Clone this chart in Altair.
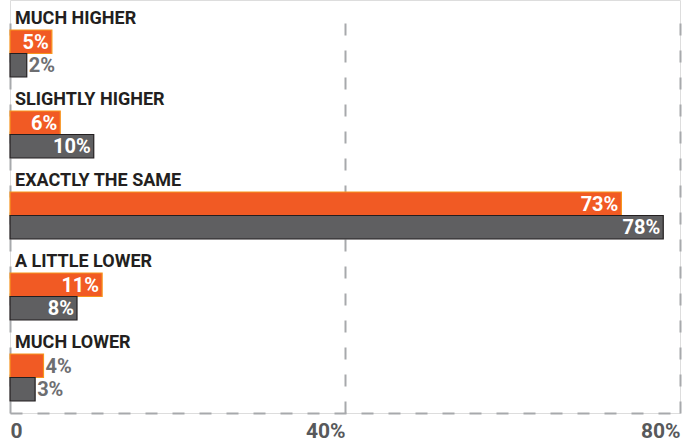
import altair as alt
import pandas as pd

categories = ["MUCH HIGHER", "SLIGHTLY HIGHER", "EXACTLY THE SAME", "A LITTLE LOWER", "MUCH LOWER"]
series_names = ["A", "B"]
series_a = [5, 6, 73, 11, 4]
series_b = [2, 10, 78, 8, 3]
tick_values = [0, 40, 80]

FONT = "Roboto, Liberation Sans, sans-serif"

rows = []
for cat, a, b in zip(categories, series_a, series_b):
    for s, v in ((series_names[0], a), (series_names[1], b)):
        rows.append({"category": cat, "slot": s, "value": v,
                     "label": f"{v}%", "inside": v >= 5})
bars_df = pd.DataFrame(rows)
labels_df = pd.DataFrame({"category": categories, "slot": ["label"] * len(categories)})

slot_domain = ["label"] + series_names
y_enc = alt.Y("category:N", sort=categories, axis=None,
              scale=alt.Scale(domain=categories, range=[0, 405], paddingInner=0, paddingOuter=0))
yoff_enc = alt.YOffset("slot:N", sort=slot_domain,
                       scale=alt.Scale(domain=slot_domain, paddingInner=0, paddingOuter=0.223, align=0.62))

x_enc = alt.X("value:Q",
              scale=alt.Scale(domain=[0, 80], nice=False, zero=True),
              axis=alt.Axis(values=tick_values, title=None, grid=True,
                            gridDash=[12, 15], gridColor="#a7a9ac", gridWidth=2,
                            domain=True, domainDash=[12, 15], domainColor="#a7a9ac", domainWidth=2,
                            ticks=False,
                            labelExpr="datum.value == 0 ? '0' : datum.value + '%'",
                            labelFont=FONT, labelFontSize=21, labelFontWeight="bold",
                            labelColor="#58595b", labelPadding=7,
                            labelAlign={"condition": {"test": "datum.value == 0", "value": "left"},
                                        "value": "right"}))

base = alt.Chart(bars_df)

bars = base.mark_bar(strokeWidth=1.2).encode(
    x=x_enc,
    y=y_enc,
    yOffset=yoff_enc,
    color=alt.Color("slot:N", scale=alt.Scale(domain=series_names, range=["#f15a24", "#5f5f61"]), legend=None),
    stroke=alt.Stroke("slot:N", scale=alt.Scale(domain=series_names, range=["#f7941d", "#231f20"]), legend=None),
)

inside_text = base.transform_filter("datum.inside").mark_text(
    align="right", baseline="middle", dx=-3, dy=1, font=FONT, fontSize=20, fontWeight="bold", color="#ffffff"
).encode(x="value:Q", y=y_enc, yOffset=yoff_enc, text="label:N")

outside_text = base.transform_filter("!datum.inside").mark_text(
    align="left", baseline="middle", dx=2, dy=1, font=FONT, fontSize=20, fontWeight="bold", color="#6d6e71"
).encode(x="value:Q", y=y_enc, yOffset=yoff_enc, text="label:N")

cat_text = alt.Chart(labels_df).mark_text(
    align="left", baseline="middle", dx=5, dy=1, font=FONT, fontSize=18, fontWeight="bold", color="#231f20"
).encode(x=alt.X(datum=0), y=y_enc, yOffset=yoff_enc, text="category:N")

chart = alt.layer(bars, inside_text, outside_text, cat_text).properties(
    width=670, height=413,
    autosize=alt.AutoSizeParams(type="none"),
    padding={"left": 10, "right": 12, "top": 0, "bottom": 32},
).configure_view(stroke=None).configure(background="#ffffff")

chart.save("out.html", embed_options={"renderer": "svg", "actions": False})
